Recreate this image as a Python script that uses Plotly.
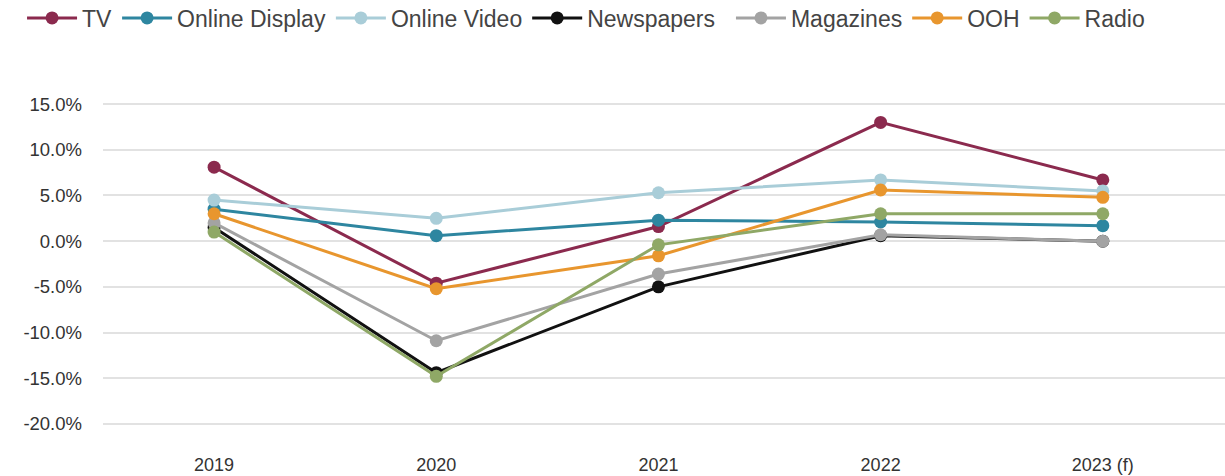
import plotly.graph_objects as go

years = ["2019", "2020", "2021", "2022", "2023 (f)"]
tv = [8.1, -4.6, 1.6, 13.0, 6.7]
online_display = [3.5, 0.6, 2.3, 2.1, 1.7]
online_video = [4.5, 2.5, 5.3, 6.7, 5.5]
newspapers = [1.5, -14.4, -5.0, 0.6, 0.0]
magazines = [2.0, -10.9, -3.6, 0.7, 0.0]
ooh = [3.0, -5.2, -1.6, 5.6, 4.8]
radio = [1.0, -14.8, -0.4, 3.0, 3.0]

y_ticks = [15, 10, 5, 0, -5, -10, -15, -20]
y_ticktext = ["15.0%", "10.0%", "5.0%", "0.0%", "-5.0%", "-10.0%", "-15.0%", "-20.0%"]

series = [
    ("TV", tv, "#8b2a4e", "legend"),
    ("Online Display", online_display, "#2e86a0", "legend"),
    ("Online Video", online_video, "#a9cdd8", "legend"),
    ("Newspapers", newspapers, "#111111", "legend"),
    ("Magazines", magazines, "#a3a3a3", "legend2"),
    ("OOH", ooh, "#e8962e", "legend2"),
    ("Radio", radio, "#8fa866", "legend2"),
]

fig = go.Figure()
for name, vals, color, leg in series:
    fig.add_trace(go.Scatter(
        x=years, y=vals, name=name, mode="lines+markers",
        line=dict(color=color, width=3),
        marker=dict(color=color, size=13),
        legend=leg,
    ))

legend_common = dict(orientation="h", y=1 - 18 / 476, xref="container", yref="container",
                     xanchor="left", yanchor="middle",
                     font=dict(size=23, color="#444444"), itemwidth=50,
                     tracegroupgap=0)

fig.update_layout(
    width=1225, height=476,
    margin=dict(l=103, r=0, t=95, b=43),
    plot_bgcolor="white", paper_bgcolor="white",
    font=dict(family="Liberation Sans, Arial, sans-serif", color="#333333"),
    showlegend=True,
    legend=dict(x=0.018, **legend_common),
    legend2=dict(x=0.5967, **legend_common),
    xaxis=dict(type="category", range=[-0.5, 4.55], showgrid=False,
               showline=False, zeroline=False, automargin=False,
               tickfont=dict(size=18, color="#333333"),
               ticklabelstandoff=19),
    yaxis=dict(range=[-21, 16], tickvals=y_ticks, ticktext=y_ticktext,
               showgrid=True, gridcolor="#e2e2e2", gridwidth=2,
               zeroline=False, showline=False, automargin=False,
               tickfont=dict(size=18.5, color="#333333"),
               ticklabelstandoff=20),
)

fig.write_html("out.html", config={"displayModeBar": False},
               post_script="document.body.style.margin='0';document.body.style.overflow='hidden';")
